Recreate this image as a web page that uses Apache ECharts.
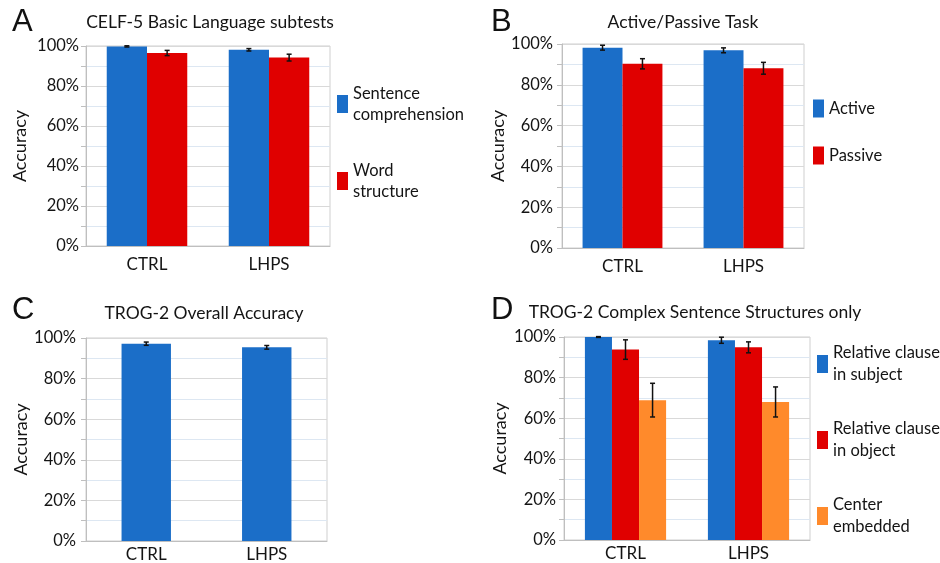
<!DOCTYPE html>
<html><head><meta charset="utf-8">
<script src="https://cdn.jsdelivr.net/npm/echarts@6/dist/echarts.min.js"></script>
<style>html,body{margin:0;padding:0;background:#fff}#c{width:940px;height:563px}</style>
</head><body><div id="c"></div>
<script>
// ---- data ----
const categories = ['CTRL', 'LHPS'];
const aSentence = [99.8, 98.1];
const aSentenceErr = [0.3, 0.6];
const aWord = [96.5, 94.2];
const aWordErr = [1.3, 1.7];
const bActive = [98.2, 96.9];
const bActiveErr = [1.2, 1.2];
const bPassive = [90.3, 88.1];
const bPassiveErr = [2.5, 2.9];
const cOverall = [97.2, 95.4];
const cOverallErr = [0.8, 0.9];
const dSubject = [100, 98.4];
const dSubjectErr = [0.2, 1.5];
const dObject = [93.8, 94.9];
const dObjectErr = [4.8, 2.7];
const dCenter = [68.9, 68.0];
const dCenterErr = [8.3, 7.4];
const panelTitles = ['CELF-5 Basic Language subtests', 'Active/Passive Task', 'TROG-2 Overall Accuracy', 'TROG-2 Complex Sentence Structures only'];
const panelLetters = ['A', 'B', 'C', 'D'];
const legendLines = {
  'Sentence comprehension': 'Sentence\ncomprehension',
  'Word structure': 'Word\nstructure',
  'Relative clause in subject': 'Relative clause\nin subject',
  'Relative clause in object': 'Relative clause\nin object',
  'Center embedded': 'Center\nembedded'
};

const FONT = 'Lato';
const TXT = '#141414';
const BLUE = '#1b6ec8', RED = '#e00000', ORANGE = '#ff8a2b';

const grids = [
  {left: 86, top: 46, width: 244, height: 200},
  {left: 562, top: 44, width: 242, height: 204},
  {left: 86, top: 338, width: 241, height: 204},
  {left: 564, top: 337, width: 246, height: 203}
].map(g => Object.assign(g, {show: true, borderColor: '#cfcfcf', borderWidth: 1, backgroundColor: '#fff'}));

function yAx(gi, nameGap, margin) {
  return {
    type: 'value', gridIndex: gi, min: 0, max: 100, interval: 20,
    name: 'Accuracy', nameLocation: 'middle', nameGap: nameGap, nameRotate: 90,
    nameTextStyle: {fontFamily: FONT, fontSize: 18, color: TXT},
    axisLine: {show: true, lineStyle: {color: '#bfbfbf'}},
    axisTick: {show: true, length: 5, lineStyle: {color: '#bfbfbf'}},
    minorTick: {show: true, splitNumber: 2, length: 5, lineStyle: {color: '#bfbfbf'}},
    splitLine: {show: true, lineStyle: {color: '#d9d9d9'}},
    minorSplitLine: {show: true, lineStyle: {color: '#dde7f2'}},
    axisLabel: {formatter: '{value}%', margin: margin, fontFamily: FONT, fontSize: 16.5, color: TXT}
  };
}
function xAx(gi, margin) {
  return {
    type: 'category', gridIndex: gi, data: categories,
    axisLine: {show: true, lineStyle: {color: '#bfbfbf'}},
    axisTick: {show: false},
    axisLabel: {margin: margin, fontFamily: FONT, fontSize: 17, color: TXT}
  };
}
function bar(name, gi, data, color, gap) {
  return {
    name: name, type: 'bar', xAxisIndex: gi, yAxisIndex: gi, data: data,
    barGap: '0%', barCategoryGap: gap,
    itemStyle: {color: color},
    z: 2
  };
}
function errorBars(n, gap) {
  return function (params, api) {
    const cat = api.value(0), v = api.value(1), e = api.value(2), k = api.value(3);
    const band = api.size([1, 0])[0];
    const group = band * (1 - gap);
    const w = group / n;
    const cx = api.coord([cat, v])[0] - group / 2 + (k + 0.5) * w;
    const yT = api.coord([cat, v + e])[1], yB = api.coord([cat, v - e])[1];
    const cap = 2.5;
    const st = {stroke: '#111', lineWidth: 1.5};
    return {type: 'group', children: [
      {type: 'line', shape: {x1: cx, y1: yT, x2: cx, y2: yB}, style: st},
      {type: 'line', shape: {x1: cx - cap, y1: yT, x2: cx + cap, y2: yT}, style: st},
      {type: 'line', shape: {x1: cx - cap, y1: yB, x2: cx + cap, y2: yB}, style: st}
    ]};
  };
}
function errSeries(name, gi, groups, n, gap) {
  const data = [];
  groups.forEach((g, k) => g[0].forEach((v, i) => data.push([i, v, g[1][i], k])));
  return {name: name, type: 'custom', xAxisIndex: gi, yAxisIndex: gi, data: data,
    renderItem: errorBars(n, gap), encode: {x: 0, y: 1}, z: 5, silent: true};
}
function legend(names, left, top, gap, lh) {
  return {
    data: names, orient: 'vertical', left: left, top: top, padding: 0,
    itemWidth: 11, itemHeight: 18, itemGap: gap, icon: 'rect', selectedMode: false,
    formatter: n => legendLines[n] || n,
    textStyle: {fontFamily: FONT, fontSize: 16.5, color: TXT, lineHeight: lh}
  };
}
const titleCenters = [[210, 22], [683, 22], [204, 313], [695, 312]];
const letterPos = [[12, 23.5], [491, 24], [12, 312], [491, 312]];

const option = {
  animation: false,
  backgroundColor: '#fff',
  title: panelTitles.map((t, i) => ({
    text: t, left: titleCenters[i][0], top: titleCenters[i][1],
    textAlign: 'center', textVerticalAlign: 'middle', padding: 0,
    textStyle: {fontFamily: FONT, fontSize: 17.5, fontWeight: 'normal', color: TXT}
  })),
  graphic: panelLetters.map((l, i) => ({
    type: 'text', left: letterPos[i][0], top: letterPos[i][1] - 17,
    style: {text: l, font: '31px "Liberation Sans"', fill: '#111'}
  })),
  legend: [
    legend(['Sentence comprehension', 'Word structure'], 337, 83, 35, 21),
    legend(['Active', 'Passive'], 813, 98, 26, 21),
    legend(['Relative clause in subject', 'Relative clause in object', 'Center embedded'], 817, 342, 32, 22)
  ],
  grid: grids,
  xAxis: [xAx(0, 10), xAx(1, 10), xAx(2, 5), xAx(3, 5)],
  yAxis: [yAx(0, 57, 7), yAx(1, 55, 9), yAx(2, 56, 10), yAx(3, 55, 8)],
  series: [
    bar('Sentence comprehension', 0, aSentence, BLUE, '34%'),
    bar('Word structure', 0, aWord, RED, '34%'),
    errSeries('errA', 0, [[aSentence, aSentenceErr], [aWord, aWordErr]], 2, 0.34),
    bar('Active', 1, bActive, BLUE, '34%'),
    bar('Passive', 1, bPassive, RED, '34%'),
    errSeries('errB', 1, [[bActive, bActiveErr], [bPassive, bPassiveErr]], 2, 0.34),
    bar('Overall accuracy', 2, cOverall, BLUE, '59%'),
    errSeries('errC', 2, [[cOverall, cOverallErr]], 1, 0.59),
    bar('Relative clause in subject', 3, dSubject, BLUE, '34%'),
    bar('Relative clause in object', 3, dObject, RED, '34%'),
    bar('Center embedded', 3, dCenter, ORANGE, '34%'),
    errSeries('errD', 3, [[dSubject, dSubjectErr], [dObject, dObjectErr], [dCenter, dCenterErr]], 3, 0.34)
  ]
};
const chart = echarts.init(document.getElementById('c'), null, {renderer: 'canvas'});
chart.setOption(option);
</script>
</body></html>
